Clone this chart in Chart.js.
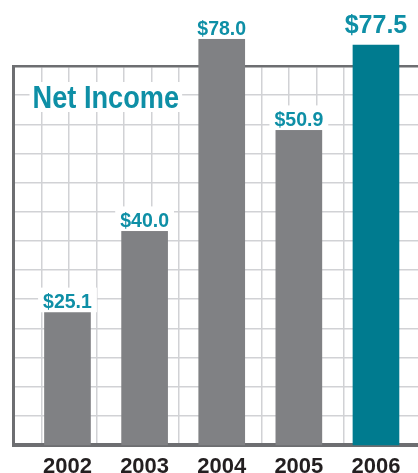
<!DOCTYPE html>
<html>
<head>
<meta charset="utf-8">
<script src="https://cdn.jsdelivr.net/npm/chart.js@4.4.1/dist/chart.umd.min.js"></script>
<style>
  html, body { margin: 0; padding: 0; background: #fff; }
  canvas { display: block; }
</style>
</head>
<body>
<canvas id="incomeChart" width="418" height="473"></canvas>
<script>
/* ============================================================
   Net Income bar chart
   ============================================================ */

// ── Data ──────────────────────────────────────────────────────
const years       = [2002, 2003, 2004, 2005, 2006];
const labelValues = [25.1, 40.0, 78.0, 50.9, 77.5];   // printed above the bars
const barValues   = [25.5, 41.1, 78.0, 60.5, 76.9];   // bar heights as drawn in the original

const FONT   = '"Liberation Sans", Arial, sans-serif';
const GRAY   = '#808184';
const TEAL   = '#007b8f';
const TEXT_T = '#0e8fa6';
const FRAME  = '#6d6e71';
const GRID   = '#d1d2d5';

// ── Labels above each bar, on a white patch ───────────────────
const valueLabels = {
  id: 'valueLabels',
  afterDatasetsDraw(chart) {
    const ctx  = chart.ctx;
    const bars = chart.getDatasetMeta(0).data;
    ctx.save();
    ctx.textAlign = 'center';
    ctx.textBaseline = 'alphabetic';
    bars.forEach((bar, i) => {
      const big  = i === bars.length - 1;
      const size = big ? 25 : 19.5;
      const text = '$' + labelValues[i].toFixed(1);
      ctx.font = `bold ${size}px ${FONT}`;
      const w    = ctx.measureText(text).width;
      const base = bar.y - (big ? 12 : 4);
      const top  = base - size * 0.75 - 6;
      ctx.fillStyle = '#fff';
      ctx.fillRect(bar.x - w / 2 - 5, top, w + 10, bar.y - top);
      ctx.fillStyle = TEXT_T;
      ctx.fillText(text, bar.x, base);
    });
    ctx.restore();
  },
};

// ── "Net Income" heading inside the plot (condensed) ──────────
const heading = {
  id: 'heading',
  afterDatasetsDraw(chart) {
    const ctx = chart.ctx;
    const { left, top } = chart.chartArea;
    const squeeze = 0.85;
    ctx.save();
    ctx.font = `bold 32px ${FONT}`;
    ctx.textAlign = 'left';
    ctx.textBaseline = 'alphabetic';
    const x = left + 19, y = top + 42;
    const w = ctx.measureText('Net Income').width * squeeze;
    ctx.fillStyle = '#fff';
    ctx.fillRect(x - 3, y - 26, w + 6, 30);
    ctx.translate(x, y);
    ctx.scale(squeeze, 1);
    ctx.fillStyle = TEXT_T;
    ctx.fillText('Net Income', 0, 0);
    ctx.restore();
  },
};

new Chart(document.getElementById('incomeChart').getContext('2d'), {
  type: 'bar',
  data: {
    labels: years,
    datasets: [{
      data:            barValues,
      backgroundColor: years.map((y, i) => i === years.length - 1 ? TEAL : GRAY),
      borderWidth:     0,
      barThickness:    46,
      clip:            false,
    }],
  },
  options: {
    responsive: false,
    animation:  false,
    devicePixelRatio: 1,
    layout: { padding: { top: 66, left: 13.5, right: 0, bottom: 0 } },
    plugins: {
      legend:  { display: false },
      tooltip: { enabled: false },
    },
    scales: {
      x: {
        type: 'linear',
        position: 'bottom',
        offset: false,
        min: 2002 - 0.7,
        max: 2006 + 0.545,
        z: 1,
        grid:   { display: false },
        border: { display: true, color: FRAME, width: 4 },
        ticks: {
          stepSize: 1,
          includeBounds: false,
          autoSkip: false,
          maxRotation: 0,
          padding: 1,
          color: '#231f20',
          font: { family: FONT, size: 22, weight: 'bold' },
          callback: v => Number.isInteger(v) ? String(v) : '',
        },
        afterFit: s => { s.height = 28; },
      },
      y: { display: false, min: 0, max: 72.8 },
      // background grid + frame
      gx: {
        type: 'linear',
        position: 'top',
        min: 0, max: 13.66,
        grid:   { color: GRID, lineWidth: 1.5, drawTicks: false },
        border: { display: true, color: FRAME, width: 2.5 },
        ticks:  { display: false, stepSize: 1 },
      },
      gy: {
        type: 'linear',
        position: 'left',
        min: 0, max: 13,
        grid:   { color: GRID, lineWidth: 1.5, drawTicks: false },
        border: { display: true, color: FRAME, width: 3 },
        ticks:  { display: false, stepSize: 1 },
      },
    },
  },
  plugins: [valueLabels, heading],
});
</script>
</body>
</html>
